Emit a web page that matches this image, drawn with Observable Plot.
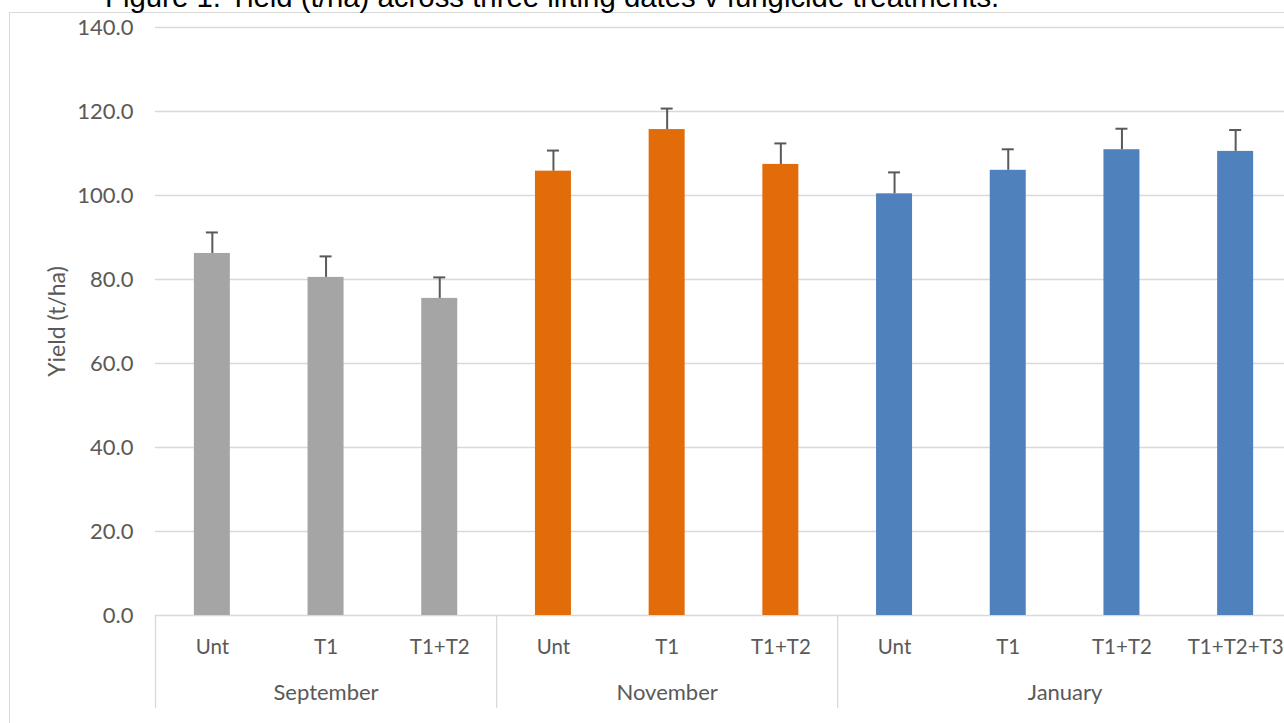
<!DOCTYPE html>
<html><head><meta charset="utf-8">
<script src="https://cdn.jsdelivr.net/npm/d3@7"></script>
<script src="https://cdn.jsdelivr.net/npm/@observablehq/plot@0.6"></script>
<style>
html,body{margin:0;padding:0;overflow:hidden;background:#fff;width:1284px;height:723px}
#wrap{position:relative;width:1284px;height:723px;overflow:hidden;background:#fff}
#frame{position:absolute;left:9px;top:12px;width:1400px;height:800px;border:1px solid #d9d9d9;box-sizing:border-box}
#chart{position:absolute;left:0;top:0}
#chart svg{max-width:none !important}
#title{position:absolute;left:105px;font-family:"Liberation Sans",Arial,sans-serif;color:#000;white-space:nowrap;line-height:1}
</style></head><body>
<div id="wrap"><div id="frame"></div><div id="chart"></div><div id="title"></div></div>
<script>
const titleText = "Figure 1. Yield (t/ha) across three lifting dates v fungicide treatments.";
const yLabel = "Yield (t/ha)";
const months = ["September", "November", "January"];
const monthColors = ["#a5a5a5", "#e36c0a", "#4f81bd"];
const barMonth = ["September","September","September","November","November","November","January","January","January","January"];
const treatment = ["Unt","T1","T1+T2","Unt","T1","T1+T2","Unt","T1","T1+T2","T1+T2+T3"];
const yieldMean = [86.2, 80.5, 75.5, 105.8, 115.7, 107.4, 100.4, 106.0, 110.9, 110.5];
const yieldErr = [5.0, 5.0, 5.0, 4.9, 5.0, 5.0, 5.1, 5.0, 5.0, 5.1];
const yTicks = [0, 20, 40, 60, 80, 100, 120, 140];

const rows = treatment.map((t, i) => ({key: barMonth[i] + "|" + t, month: barMonth[i], treatment: t, value: yieldMean[i], err: yieldErr[i]}));
const keys = rows.map(d => d.key);

const W = 1300, H = 723, ML = 155, MR = 8, MT = 27, MB = 108;
const step = (W - ML - MR) / keys.length;
const barW = 36, capW = 12;
const font = "Lato, 'Open Sans', sans-serif";
const grey = "#595959";

const groups = months.map(m => {
  const idx = rows.map((d, i) => d.month === m ? i : -1).filter(i => i >= 0);
  return {month: m, start: idx[0], n: idx.length};
});
const sepMarks = groups.map(g => Plot.ruleX([keys[g.start]], {x: d => d, dx: -step / 2, stroke: "#d9d9d9", strokeWidth: 1.3, insetTop: H - MT - MB, insetBottom: -93}));
const last = groups[groups.length - 1];
sepMarks.push(Plot.ruleX([keys[last.start + last.n - 1]], {x: d => d, dx: step / 2, stroke: "#d9d9d9", strokeWidth: 1.3, insetTop: H - MT - MB, insetBottom: -93}));
const groupLabelMarks = groups.map(g => {
  const odd = g.n % 2 === 1;
  const k = odd ? keys[g.start + (g.n - 1) / 2] : keys[g.start + g.n / 2 - 1];
  return Plot.text([g], {x: () => k, text: "month", frameAnchor: "bottom", dy: 77, dx: odd ? 0 : step / 2, lineAnchor: "middle", fill: grey, fontSize: 22, fontFamily: font});
});

const chart = Plot.plot({
  width: W, height: H,
  marginLeft: ML, marginRight: MR, marginTop: MT, marginBottom: MB,
  style: {fontFamily: font, fontSize: "22px", color: grey, background: "transparent", overflow: "visible", maxWidth: "none"},
  x: {domain: keys, padding: 0, round: false, axis: null},
  y: {domain: [0, 140], axis: null},
  color: {domain: months, range: monthColors},
  marks: [
    Plot.ruleY(yTicks, {stroke: "#d9d9d9", strokeWidth: 1.3}),
    Plot.axisY(yTicks, {tickSize: 0, tickPadding: 22, tickFormat: d => d.toFixed(1), fill: grey, fontSize: 22, fontFamily: font, label: null}),
    Plot.text([yLabel], {text: d => d, frameAnchor: "left", textAnchor: "middle", dx: -98, rotate: -90, fill: grey, fontSize: 23, fontFamily: font}),
    Plot.barY(rows, {x: "key", y: "value", fill: "month", insetLeft: (step - barW) / 2, insetRight: (step - barW) / 2}),
    Plot.ruleX(rows, {x: "key", y1: "value", y2: d => d.value + d.err, stroke: grey, strokeWidth: 2}),
    Plot.tickY(rows, {x: "key", y: d => d.value + d.err, stroke: grey, strokeWidth: 2, insetLeft: (step - capW) / 2, insetRight: (step - capW) / 2}),
    Plot.text(rows, {x: "key", text: "treatment", frameAnchor: "bottom", dy: 32, lineAnchor: "middle", fill: grey, fontSize: 20.5, fontFamily: font}),
    ...sepMarks,
    ...groupLabelMarks
  ]
});
document.getElementById("chart").appendChild(chart);

const t = document.getElementById("title");
const ctx = document.createElement("canvas").getContext("2d");
ctx.font = "100px 'Liberation Sans'";
const fs = 895 / ctx.measureText(titleText).width * 100;
t.style.fontSize = fs + "px";
t.style.top = (7 - 0.8465 * fs) + "px";
t.textContent = titleText;
</script>
</body></html>
